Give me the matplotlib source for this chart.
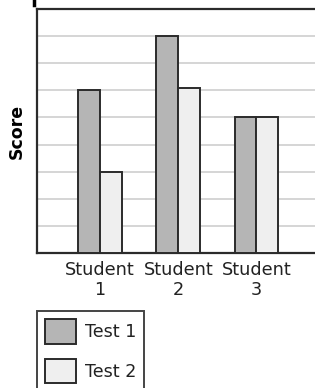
import matplotlib.pyplot as plt
import numpy as np
from matplotlib.lines import Line2D

students = ["Student\n1", "Student\n2", "Student\n3"]
test1 = [6, 8, 5]
test2 = [3, 6.1, 5]
series_names = ["Test 1", "Test 2"]

DARK = "#2b2b2b"
GRAY1 = "#b5b5b5"
GRAY2 = "#efefef"
GRID = "#d2d2d2"

plt.rcParams["font.family"] = "DejaVu Sans"

fig = plt.figure(figsize=(3.15, 3.88), dpi=100)
ax = fig.add_axes([37 / 315, 1 - 253 / 388, 1.03 - 37 / 315, (253 - 9) / 388])

x = np.arange(len(students))
w = 0.28
b1 = ax.bar(x - w / 2, test1, w, color=GRAY1, edgecolor=DARK, linewidth=1.4, zorder=3)
b2 = ax.bar(x + w / 2, test2, w, color=GRAY2, edgecolor=DARK, linewidth=1.4, zorder=3)

ax.set_xlim(-0.808, 2.87)
ax.set_ylim(0, 9)
ax.set_yticks(np.arange(0, 10))
ax.set_yticklabels([])
ax.set_xticks(x)
ax.set_xticklabels(students, fontsize=12.7, color="#222222", linespacing=1.1)
ax.tick_params(length=0, pad=6)
ax.grid(axis="y", color=GRID, linewidth=1.3)
ax.set_axisbelow(True)
for s in ax.spines.values():
    s.set_color(DARK)
    s.set_linewidth(1.6)
ax.set_ylabel("Score", fontsize=12.5, fontweight="bold", labelpad=2)

fig.legend([b1, b2], series_names, loc="upper left",
           bbox_to_anchor=(37 / 315, 1 - 311 / 388), borderaxespad=0,
           fontsize=12.6, handlelength=1.8, handleheight=1.8,
           labelspacing=0.85, borderpad=0.45, handletextpad=0.5,
           fancybox=False, edgecolor="#444444", framealpha=1)
for t in fig.legends[0].get_texts():
    t.set_color("#222222")
fig.legends[0].get_frame().set_linewidth(1.4)

# clipped mark at the top left of the source image
fig.add_artist(Line2D([33.5 / 315, 33.5 / 315], [1, 1 - 5 / 388],
                      color="black", linewidth=2.5, transform=fig.transFigure))

fig.savefig("out.png", dpi=100)
